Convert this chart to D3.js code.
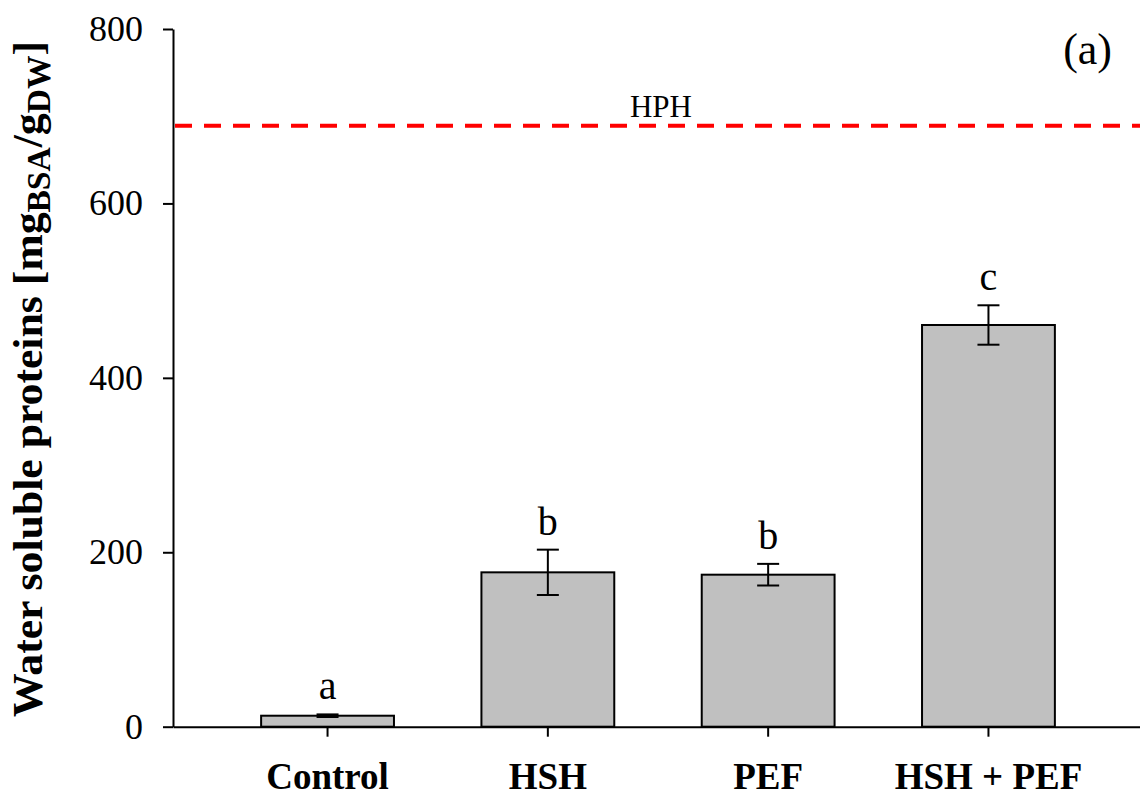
<!DOCTYPE html>
<html>
<head>
<meta charset="utf-8">
<script src="https://cdn.jsdelivr.net/npm/d3@7"></script>
<style>
  html, body { margin: 0; padding: 0; background: #fff; }
  svg { display: block; }
  text { font-family: "Liberation Serif", "Times New Roman", serif; fill: #000; }
</style>
</head>
<body>
<svg id="chart" width="1140" height="799"></svg>
<script>
const categories = ["Control", "HSH", "PEF", "HSH + PEF"];
const means = [12.6, 177, 174.3, 460.6];
const errors = [1.5, 26, 12.4, 22.6];
const letters = ["a", "b", "b", "c"];
const yTicks = [0, 200, 400, 600, 800];
const hphValue = 689;
const hphLabel = "HPH";
const panelLabel = "(a)";

const svg = d3.select("#chart");

const y = d3.scaleLinear().domain([0, 800]).range([726.7, 29]);
const x = d3.scaleBand().domain(categories).range([173, 1143])
  .paddingInner(0.397).paddingOuter(0.4);

// Y axis
const gy = svg.append("g").attr("transform", "translate(173,0)")
  .call(d3.axisLeft(y).tickValues(yTicks).tickSize(10).tickSizeOuter(0).tickPadding(20));
gy.selectAll("path, line").attr("stroke", "#000").attr("stroke-width", 2);
gy.selectAll("text").attr("font-size", 36).attr("font-family", "Liberation Serif").attr("dy", "0.32em");

// X axis
const gx = svg.append("g").attr("transform", "translate(0,726.7)")
  .call(d3.axisBottom(x).tickSize(10).tickSizeOuter(0).tickPadding(26));
gx.selectAll("path, line").attr("stroke", "#000").attr("stroke-width", 2);
gx.selectAll("text").attr("font-size", 37).attr("font-weight", "bold").attr("font-family", "Liberation Serif");

// Bars
const data = categories.map((c, i) => ({ c, m: means[i], e: errors[i], l: letters[i] }));
svg.append("g").selectAll("rect").data(data).join("rect")
  .attr("x", d => x(d.c))
  .attr("width", x.bandwidth())
  .attr("y", d => y(d.m))
  .attr("height", d => y(0) - y(d.m))
  .attr("fill", "#c0c0c0")
  .attr("stroke", "#000")
  .attr("stroke-width", 2);

// Error bars
const eg = svg.append("g").attr("stroke", "#000").attr("stroke-width", 2);
data.forEach(d => {
  const cx = x(d.c) + x.bandwidth() / 2;
  eg.append("line").attr("x1", cx).attr("x2", cx).attr("y1", y(d.m + d.e)).attr("y2", y(d.m - d.e));
  eg.append("line").attr("x1", cx - 11).attr("x2", cx + 11).attr("y1", y(d.m + d.e)).attr("y2", y(d.m + d.e));
  eg.append("line").attr("x1", cx - 11).attr("x2", cx + 11).attr("y1", y(d.m - d.e)).attr("y2", y(d.m - d.e));
});

// Letters
svg.append("g").selectAll("text").data(data).join("text")
  .attr("x", d => x(d.c) + x.bandwidth() / 2)
  .attr("y", d => y(d.m + d.e) - 15)
  .attr("text-anchor", "middle")
  .attr("font-size", 40)
  .text(d => d.l);

// HPH dashed line
svg.append("line")
  .attr("x1", 175).attr("x2", 1140)
  .attr("y1", y(hphValue)).attr("y2", y(hphValue))
  .attr("stroke", "#ff0000").attr("stroke-width", 4)
  .attr("stroke-dasharray", "17,12");
svg.append("text")
  .attr("x", 661).attr("y", y(hphValue) - 9)
  .attr("text-anchor", "middle").attr("font-size", 31)
  .text(hphLabel);

// Panel label
svg.append("text")
  .attr("x", 1112).attr("y", 64)
  .attr("text-anchor", "end").attr("font-size", 44)
  .text(panelLabel);

// Y title
const t = svg.append("text")
  .attr("transform", "translate(42,379) rotate(-90)")
  .attr("text-anchor", "middle")
  .attr("font-size", 43)
  .attr("font-weight", "bold")
  .attr("textLength", 676)
  .attr("lengthAdjust", "spacingAndGlyphs");
t.append("tspan").text("Water soluble proteins [mg");
t.append("tspan").attr("font-size", 33).attr("dy", 8).text("BSA");
t.append("tspan").attr("dy", -8).text("/g");
t.append("tspan").attr("font-size", 33).attr("dy", 8).text("DW");
t.append("tspan").attr("dy", -8).text("]");
</script>
</body>
</html>
